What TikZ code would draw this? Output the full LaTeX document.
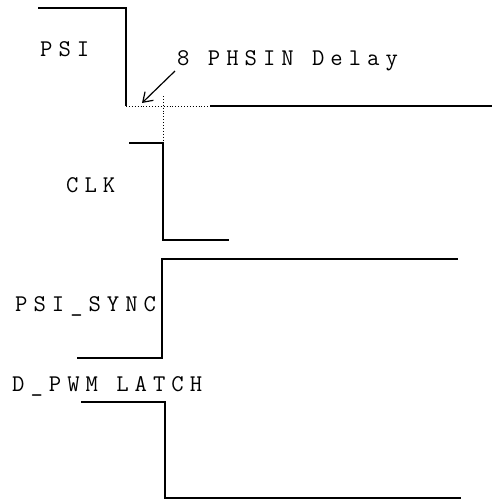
\documentclass[tikz,border=0pt]{standalone}
\usepackage{fontspec}
\setmonofont{Latin Modern Mono}[LetterSpace=25]
\usetikzlibrary{positioning,arrows.meta}

\begin{document}
\begin{tikzpicture}[
  x=1pt,y=-1pt,
  font=\ttfamily\fontsize{24}{28}\selectfont,
  sig/.style={anchor=base west,inner sep=0pt},
  wave/.style={line width=1.5pt,line join=miter},
  guide/.style={dotted,line width=0.9pt},
  arrow/.style={-{Straight Barb[length=9pt,width=12pt]},line width=1.2pt},
]
  \useasboundingbox (0,0) rectangle (496,501);

  % Signal names.
  \node[sig] (psi)   at (40,56)  {PSI};
  \node[sig] (clk)   at (66,192) {CLK};
  \node[sig] (sync)  at (15,311) {PSI\_SYNC};
  \node[sig] (latch) at (12,391) {D\_PWM LATCH};
  \node[sig] (delay) at (177,65) {8 PHSIN Delay};

  % Waveforms.
  \draw[wave] (38,8) -- (126,8) coordinate (psiR) -- (126,106) coordinate (psiF);
  \draw[guide] (psiF) -- (210,106) coordinate (psiE);
  \draw[wave] (psiE) -- (492,106);
  \draw[wave] (129,143) -- (163,143) coordinate (clkR) -- (163,240) -- (229,240);
  \draw[guide] (163,96) -- (clkR);
  \draw[wave] (77,358) -- (162,358) -- (162,259) -- (458,259);
  \draw[wave] (81,402) -- (165,402) -- (165,498) -- (461,498);

  % Delay marker.
  \coordinate (dTail) at (175,71);
  \coordinate (dTip) at (142,103);
  \draw[arrow] (dTail) -- (dTip);

\end{tikzpicture}
\end{document}
